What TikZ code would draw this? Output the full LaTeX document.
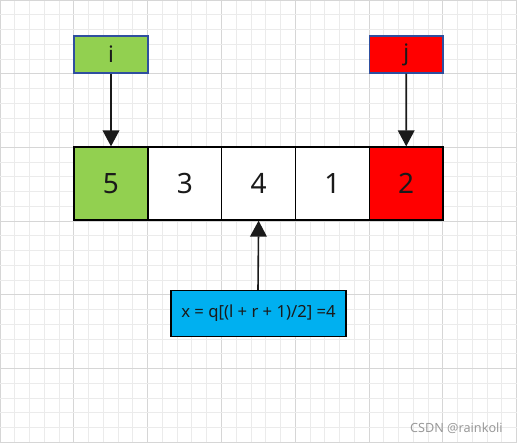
\documentclass[tikz,border=0pt]{standalone}
\usepackage{fontspec}
\setmainfont{Noto Sans}
\usepackage{tikz}
\usetikzlibrary{calc,arrows.meta}

\definecolor{gridminor}{HTML}{EBEBEB}
\definecolor{gridmajor}{HTML}{D6D6D6}
\definecolor{cellgreen}{HTML}{92D050}
\definecolor{cellred}{HTML}{FF0000}
\definecolor{ptrborder}{HTML}{2F4F9F}
\definecolor{midblue}{HTML}{00B0F0}
\definecolor{txtdark}{HTML}{1A1A1A}

\tikzset{
  cell/.style={draw=black,line width=1pt,minimum width=55.35pt,minimum height=54.75pt,
    inner sep=0pt,font=\fontsize{21}{24}\selectfont,text=txtdark},
  pointer/.style={draw=ptrborder,line width=1pt,minimum width=55.35pt,minimum height=27.75pt,
    inner sep=0pt,font=\fontsize{17}{20}\selectfont,text=txtdark},
  ptrarrow/.style={line width=1.2pt,draw=txtdark,-{Triangle[width=12.5pt,length=12pt]}}
}

\begin{document}
\begin{tikzpicture}[x=0.75pt,y=-0.75pt]
  \useasboundingbox (0,0) rectangle (517,443);
  %% Background grid
  \foreach \k in {0,1,...,35}
  {
    \pgfmathsetmacro{\gx}{\k*14.76}
    \pgfmathtruncatemacro{\ismaj}{mod(\k,5)==0}
    \ifnum\ismaj=1 \draw[gridmajor,line width=0.6pt] (\gx,0) -- (\gx,443);
    \else \draw[gridminor,line width=0.6pt] (\gx,0) -- (\gx,443); \fi
  }
  \foreach \k in {0,1,...,30}
  {
    \pgfmathsetmacro{\gy}{\k*14.74}
    \pgfmathtruncatemacro{\ismaj}{mod(\k,5)==0}
    \ifnum\ismaj=1 \draw[gridmajor,line width=0.6pt] (0,\gy) -- (517,\gy);
    \else \draw[gridminor,line width=0.6pt] (0,\gy) -- (517,\gy); \fi
  }

  %% Array cells
  \foreach \v/\c [count=\n from 0] in {5/cellgreen,3/white,4/white,1/white,2/cellred}
  {
    \node[cell,fill=\c] (C\n) at (111+\n*73.8,183.5) {\v};
  }

  %% Pointers
  \node[pointer,fill=cellgreen] (i) at (111,54.5) {i};
  \node[pointer,fill=cellred] (j) at (406.2,54.5) {j};
  \draw[ptrarrow] (i) -- (C0);
  \draw[ptrarrow] (j) -- (C4);

  %% Middle element
  \node[draw=black,line width=1pt,fill=midblue,minimum width=131.25pt,minimum height=34.5pt,
    font=\fontsize{12.5}{15}\selectfont,text=txtdark] (mid) at (258.5,313.5) {x = q[(l + r + 1)/2] =4};
  \draw[ptrarrow] (mid.north-|258,0) -- (C2.south);

  \node[anchor=east,text=gray!80,font=\fontsize{9.5}{11}\selectfont,inner sep=0pt] (mark) at (503,428) {CSDN @rainkoli};
\end{tikzpicture}
\end{document}
